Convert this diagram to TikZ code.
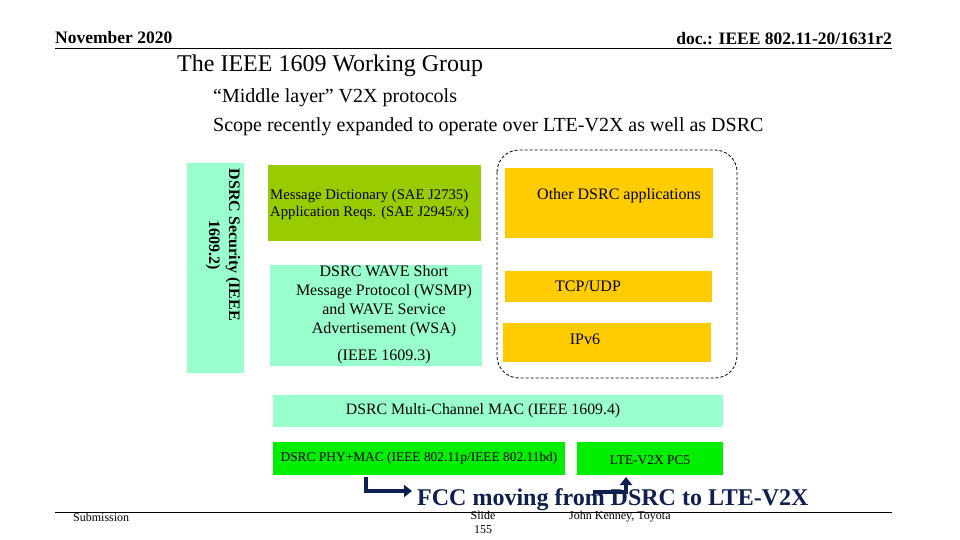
\documentclass[tikz,border=0pt]{standalone}
\usepackage{fontspec}
\setmainfont{Liberation Serif}
\usetikzlibrary{positioning,arrows.meta}
\definecolor{aqua}{HTML}{99FFCC}
\definecolor{olive}{HTML}{99CC00}
\definecolor{gold}{HTML}{FFCC00}
\definecolor{lime}{HTML}{00EE00}
\definecolor{navy}{HTML}{0F1F4F}
\tikzset{
  layer/.style={inner sep=2pt,align=center,font=\fontsize{16}{19}\selectfont},
  hdr/.style={inner sep=0pt,font=\fontsize{17.5}{20}\selectfont\bfseries},
  foot/.style={inner sep=0pt,font=\fontsize{12}{14}\selectfont},
  bent/.style={line width=4pt,navy,-{Triangle[length=8pt,width=12pt]}}
}
\begin{document}
\begin{tikzpicture}[x=1pt,y=-1pt]
\useasboundingbox (0,0) rectangle (960,540);
% header
\node[hdr,anchor=west] (date) at (55,38) {November 2020};
\node[hdr,anchor=east] (doc) at (892,39) {doc.: IEEE 802.11-20/1631r2};
\draw (55,48) -- (892,48);
\node[inner sep=0pt,anchor=west,font=\fontsize{24}{28}\selectfont] (title) at (177,66) {The IEEE 1609 Working Group};
\node[inner sep=0pt,anchor=west,font=\fontsize{20}{24}\selectfont] (b1) at (213,98) {“Middle layer” V2X protocols};
\node[inner sep=0pt,anchor=west,font=\fontsize{20}{24}\selectfont] (b2) at (213,127) {Scope recently expanded to operate over LTE-V2X as well as DSRC};
% stack
\fill[aqua] (187,163) rectangle (244,373);
\node[layer,rotate=-90,font=\fontsize{16}{20}\selectfont\bfseries] (sec) at (223,245) {DSRC Security (IEEE\\1609.2)};
\fill[olive] (268,165) rectangle (481,241);
\node[layer,align=left,anchor=west,font=\fontsize{14.7}{17}\selectfont] (dict) at (268,204) {Message Dictionary (SAE J2735)\\Application Reqs. (SAE J2945/x)};
\fill[aqua] (270,265) rectangle (482,366);
\node[layer,font=\fontsize{16}{19}\selectfont] (wsmp) at (384,301) {DSRC WAVE Short\\Message Protocol (WSMP)\\and WAVE Service\\Advertisement (WSA)};
\node[layer] (wsmpref) at (384,357) {(IEEE 1609.3)};
\draw[line width=0.8pt,dash pattern=on 3pt off 2pt,rounded corners=22pt] (497,150) rectangle (737,378);
\fill[gold] (505,168) rectangle (713,238);
\node[layer] (other) at (619,196) {Other DSRC applications};
\fill[gold] (505,271) rectangle (712,302);
\node[layer] (tcp) at (588,286) {TCP/UDP};
\fill[gold] (503,323) rectangle (711,362);
\node[layer] (ip) at (585,339) {IPv6};
\fill[aqua] (273,395) rectangle (723,427);
\node[layer,font=\fontsize{15.8}{18}\selectfont] (mac) at (483,411) {DSRC Multi-Channel MAC (IEEE 1609.4)};
\fill[lime] (273,442) rectangle (565,475);
\node[layer,font=\fontsize{13.4}{16}\selectfont] (phy) at (419,458) {DSRC PHY+MAC (IEEE 802.11p/IEEE 802.11bd)};
\fill[lime] (577,442) rectangle (723,475);
\node[layer,font=\fontsize{13.4}{16}\selectfont] (lte) at (650,460) {LTE-V2X PC5};
% FCC note
\draw (55,512) -- (892,512);
\coordinate (from) at (366,477);
\coordinate (to) at (626,477);
\draw[bent] (from) |- (412,491);
\draw[bent] (593,492) -| (to);
\node[inner sep=0pt,anchor=west,text=navy,font=\fontsize{24}{26}\selectfont\bfseries] (fcc) at (417,500) {FCC moving from DSRC to LTE-V2X};
% footer
\node[foot,anchor=west] (sub) at (73,517) {Submission};
\node[foot,align=center,anchor=north] (slide) at (483,511) {Slide\\155};
\node[foot,anchor=west] (auth) at (569,517) {John Kenney, Toyota};
\end{tikzpicture}
\end{document}
